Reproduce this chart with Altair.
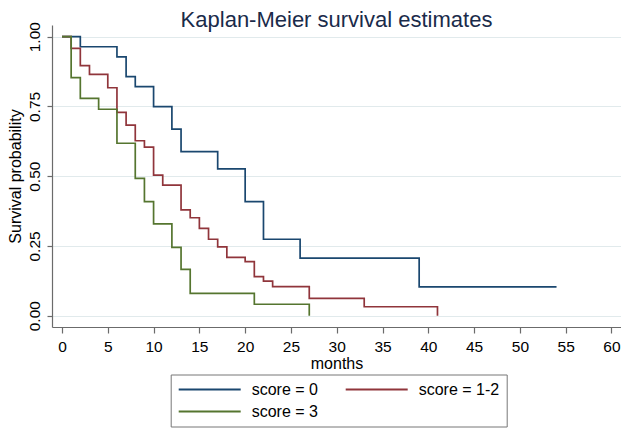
import altair as alt
import pandas as pd

# ---- data (Kaplan-Meier step curves) ----
groups = ["score = 0", "score = 1-2", "score = 3"]
colors = ["#1a476f", "#90353b", "#55752f"]

t_score0 = [0, 2, 6, 7, 8, 10, 12, 13, 17, 20, 22, 26, 39, 54]
s_score0 = [1.0, 0.964, 0.928, 0.857, 0.821, 0.749, 0.669, 0.588, 0.526,
            0.409, 0.274, 0.206, 0.103, 0.103]

t_score12 = [0, 1, 2, 3, 5, 6, 7, 8, 9, 10, 11, 13, 14, 15, 16, 17, 18, 20,
             21, 22, 23, 27, 33, 41]
s_score12 = [1.0, 0.958, 0.896, 0.865, 0.817, 0.729, 0.683, 0.627, 0.604,
             0.504, 0.468, 0.379, 0.351, 0.313, 0.274, 0.247, 0.209, 0.194,
             0.140, 0.124, 0.104, 0.062, 0.032, 0.0]

t_score3 = [0, 1, 2, 4, 6, 8, 9, 10, 12, 13, 14, 21, 27]
s_score3 = [1.0, 0.853, 0.779, 0.740, 0.618, 0.492, 0.409, 0.329, 0.245,
            0.166, 0.080, 0.041, 0.0]

x_ticks = list(range(0, 61, 5))
y_ticks = [0.0, 0.25, 0.5, 0.75, 1.0]

rows = []
for g, ts, ss in zip(groups, [t_score0, t_score12, t_score3],
                     [s_score0, s_score12, s_score3]):
    for t, s in zip(ts, ss):
        rows.append({"group": g, "months": t, "surv": s})
df = pd.DataFrame(rows)

FONT = "Liberation Sans"
AXIS_COL = "#6b6b6b"

chart = alt.Chart(df).mark_line(
    interpolate="step-after", strokeWidth=1.7
).encode(
    x=alt.X(
        "months:Q",
        scale=alt.Scale(domain=[-1.092, 61.04], nice=False, zero=False),
        axis=alt.Axis(
            values=x_ticks, title="months", grid=False,
            tickSize=6, labelPadding=6, labelFontSize=15.5,
            titleY=41, titleBaseline="alphabetic", titleFontSize=16,
        ),
    ),
    y=alt.Y(
        "surv:Q",
        scale=alt.Scale(domain=[-0.0405, 1.0419], nice=False, zero=False),
        axis=alt.Axis(
            values=y_ticks, format=".2f", title="Survival probability",
            labelAngle=270, labelAlign="center", labelBaseline="bottom",
            labelPadding=5, tickSize=5, labelFontSize=15.5,
            titleX=-32, titleY=151, titleAngle=270, titleAlign="center",
            titleBaseline="alphabetic", titleFontSize=16,
            grid=True, gridColor="#e1eaec", gridWidth=1,
        ),
    ),
    color=alt.Color(
        "group:N",
        scale=alt.Scale(domain=groups, range=colors),
        legend=alt.Legend(
            title=None, orient="none", legendX=118.7, legendY=349.5,
            direction="horizontal", columns=2,
            symbolType="stroke", symbolSize=3844, symbolStrokeWidth=2,
            labelFont=FONT, labelFontSize=16, labelColor="black",
            labelOffset=10, columnPadding=26, rowPadding=6,
            padding=7, strokeColor="#777777", clipHeight=16,
        ),
    ),
).properties(
    width=569,
    height=302,
    autosize=alt.AutoSizeParams(type="none"),
    padding={"left": 44, "top": 17, "right": 0, "bottom": 101},
    title=alt.Title(
        "Kaplan-Meier survival estimates", font=FONT, fontSize=22,
        fontWeight="normal", color="#1a2b4a", anchor="middle",
        baseline="alphabetic", offset=-3, dy=24,
    ),
).configure_view(
    stroke=None
).configure_axis(
    labelFont=FONT, titleFont=FONT, labelColor="black", titleColor="black",
    titleFontWeight="normal", domainColor=AXIS_COL, tickColor=AXIS_COL,
    domainWidth=1.2, tickWidth=1.2,
)

chart.save("out.html", embed_options={"renderer": "svg", "actions": False})
